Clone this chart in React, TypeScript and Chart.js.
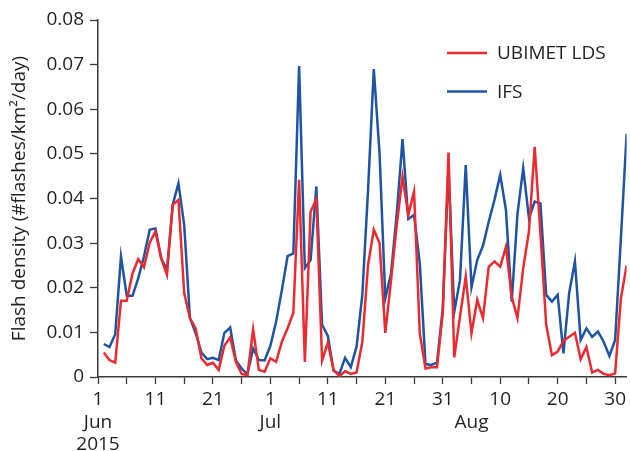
import { useEffect, useRef } from "react";
import { Chart, registerables } from "chart.js";

Chart.register(...registerables);

// Days since 1 June 2015 (0 = 1 Jun)
const dayIndex: number[] = Array.from({ length: 92 }, (_, k) => k + 1);

const ubimet: number[] = [
  0.0055, 0.0038, 0.0032, 0.0171, 0.0171, 0.0232, 0.0264, 0.0246, 0.0301, 0.0326,
  0.0266, 0.0229, 0.0386, 0.0397, 0.0188, 0.0132, 0.0109, 0.0042, 0.0027, 0.0032,
  0.0016, 0.0070, 0.0089, 0.0034, 0.0007, 0.0004, 0.0107, 0.0016, 0.0012, 0.0042,
  0.0034, 0.0079, 0.0109, 0.0144, 0.0442, 0.0034, 0.0371, 0.0398, 0.0037, 0.0077,
  0.0016, 0.0002, 0.0013, 0.0007, 0.0010, 0.0079, 0.0251, 0.0330, 0.0300, 0.0099,
  0.0217, 0.0341, 0.0449, 0.0363, 0.0416, 0.0098, 0.0019, 0.0022, 0.0022, 0.0143,
  0.0503, 0.0044, 0.0135, 0.0225, 0.0098, 0.0173, 0.0132, 0.0247, 0.0259, 0.0247,
  0.0292, 0.0180, 0.0132, 0.0244, 0.0326, 0.0516, 0.0322, 0.0117, 0.0049, 0.0057,
  0.0081, 0.0090, 0.0099, 0.0040, 0.0067, 0.0010, 0.0016, 0.0007, 0.0004, 0.0008,
  0.0176, 0.0250,
];

const ifs: number[] = [
  0.0074, 0.0067, 0.0096, 0.0270, 0.0182, 0.0182, 0.0221, 0.0270, 0.0330, 0.0333,
  0.0266, 0.0240, 0.0386, 0.0434, 0.0341, 0.0132, 0.0098, 0.0055, 0.0040, 0.0043,
  0.0038, 0.0099, 0.0111, 0.0037, 0.0019, 0.0006, 0.0064, 0.0038, 0.0037, 0.0070,
  0.0124, 0.0195, 0.0271, 0.0277, 0.0697, 0.0244, 0.0262, 0.0427, 0.0117, 0.0092,
  0.0014, 0.0007, 0.0043, 0.0022, 0.0068, 0.0184, 0.0419, 0.0690, 0.0501, 0.0176,
  0.0232, 0.0367, 0.0533, 0.0354, 0.0363, 0.0255, 0.0029, 0.0027, 0.0032, 0.0154,
  0.0468, 0.0146, 0.0217, 0.0475, 0.0201, 0.0262, 0.0294, 0.0348, 0.0397, 0.0453,
  0.0374, 0.0169, 0.0365, 0.0468, 0.0356, 0.0393, 0.0389, 0.0184, 0.0169, 0.0184,
  0.0053, 0.0188, 0.0259, 0.0083, 0.0109, 0.0090, 0.0102, 0.0079, 0.0047, 0.0083,
  0.0310, 0.0545,
];

const xTickDays: number[] = [0, 5, 10, 15, 20, 25, 30, 35, 40, 45, 50, 55, 60, 65, 70, 75, 80, 85, 90];
const xTickLabels: (string | string[])[] = [
  ["1", "Jun", "2015"], "", "11", "", "21", "", ["1", "Jul"], "", "11", "", "21", "", "31",
  ["", "Aug"], "10", "", "20", "", "30",
];
const yTicks: number[] = [0, 0.01, 0.02, 0.03, 0.04, 0.05, 0.06, 0.07, 0.08];

const FONT = '"Open Sans", "DejaVu Sans", sans-serif';
const RED = "#EC2A2F";
const BLUE = "#1D54A4";
const AXIS = "#3a3a3a";
const TEXT = "#231f20";

const legendPlugin = {
  id: "insideLegend",
  afterDraw(chart: any) {
    const ctx = chart.ctx as CanvasRenderingContext2D;
    chart.data.datasets.forEach((ds: any, k: number) => {
      const y = 53 + k * 38.5;
      ctx.save();
      ctx.strokeStyle = ds.borderColor;
      ctx.lineWidth = 2.5;
      ctx.beginPath();
      ctx.moveTo(447, y);
      ctx.lineTo(487, y);
      ctx.stroke();
      ctx.fillStyle = TEXT;
      ctx.font = `19px ${FONT}`;
      ctx.textBaseline = "middle";
      ctx.textAlign = "left";
      ctx.fillText(ds.label, 497, y + 1);
      ctx.restore();
    });
  },
};

export default function App() {
  const ref = useRef<HTMLCanvasElement | null>(null);

  useEffect(() => {
    if (!ref.current) return;
    const chart = new Chart(ref.current, {
      type: "line",
      data: {
        datasets: [
          {
            label: "UBIMET LDS",
            data: dayIndex.map((d, k) => ({ x: d, y: ubimet[k] })),
            borderColor: RED,
            borderWidth: 2.5,
            pointRadius: 0,
            tension: 0,
            fill: false,
          },
          {
            label: "IFS",
            data: dayIndex.map((d, k) => ({ x: d, y: ifs[k] })),
            borderColor: BLUE,
            borderWidth: 2.5,
            pointRadius: 0,
            tension: 0,
            fill: false,
          },
        ],
      },
      options: {
        responsive: false,
        animation: false,
        layout: { padding: { top: 20, right: 0, bottom: 0, left: 0 } },
        plugins: {
          legend: { display: false },
          tooltip: { enabled: false },
        },
        scales: {
          x: {
            type: "linear",
            min: 0,
            max: 92,
            afterBuildTicks: (scale: any) => {
              scale.ticks = xTickDays.map((v) => ({ value: v }));
            },
            afterFit: (scale: any) => {
              scale.height = 74;
            },
            ticks: {
              autoSkip: false,
              maxRotation: 0,
              minRotation: 0,
              padding: 4,
              color: TEXT,
              font: { family: FONT, size: 19, lineHeight: 1.2 },
              callback: (v: any) => {
                const i = xTickDays.indexOf(Number(v));
                return i >= 0 ? xTickLabels[i] : "";
              },
            },
            grid: {
              drawOnChartArea: false,
              drawTicks: true,
              tickLength: 7,
              tickColor: AXIS,
              tickWidth: 1.3,
            },
            border: { display: true, color: AXIS, width: 1.5 },
          },
          y: {
            min: 0,
            max: 0.08,
            afterBuildTicks: (scale: any) => {
              scale.ticks = yTicks.map((v) => ({ value: v }));
            },
            afterFit: (scale: any) => {
              scale.width = 98;
            },
            ticks: {
              padding: 6,
              color: TEXT,
              font: { family: FONT, size: 19 },
              callback: (v: any) => (Number(v) === 0 ? "0" : Number(v).toFixed(2)),
            },
            grid: {
              drawOnChartArea: false,
              drawTicks: true,
              tickLength: 8,
              tickColor: AXIS,
              tickWidth: 1.3,
            },
            border: { display: true, color: AXIS, width: 1.5 },
            title: {
              display: true,
              text: "Flash density (#flashes/km²/day)",
              color: TEXT,
              font: { family: FONT, size: 19 },
              padding: { top: 8, bottom: 0 },
            },
          },
        },
      },
      plugins: [legendPlugin],
    });
    return () => chart.destroy();
  }, []);

  return (
    <canvas
      ref={ref}
      width={630}
      height={451}
      style={{ position: "fixed", left: 0, top: 0, display: "block", background: "#fff" }}
    />
  );
}
